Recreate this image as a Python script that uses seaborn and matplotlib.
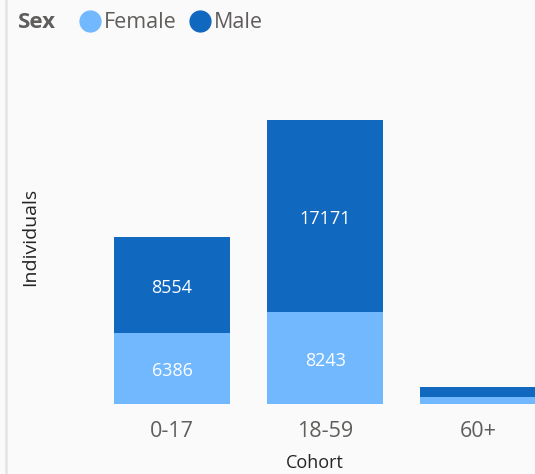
import matplotlib
matplotlib.use("Agg")
import matplotlib.pyplot as plt
import pandas as pd
import seaborn as sns
from matplotlib.lines import Line2D

# ── Data ───────────────────────────────────────────────────────────────────
cohorts = ["0-17", "18-59", "60+"]
female = [6386, 8243, 620]
male = [8554, 17171, 880]
show_labels = [True, True, False]

FEMALE_C = "#72B8FF"
MALE_C = "#1168BF"
BG = "#FAFAFA"

df = pd.DataFrame({"Cohort": cohorts, "Female": female, "Male": male})
df["Total"] = df["Female"] + df["Male"]

sns.set_theme(style="white")
plt.rcParams["font.family"] = ["Open Sans", "DejaVu Sans"]

fig = plt.figure(figsize=(5.35, 4.74), dpi=100, facecolor=BG)
ax = fig.add_axes([95.5 / 535, 70 / 474, (535 - 95.5) / 535, 335 / 474])
ax.set_facecolor(BG)

# stacked bars: total first (male colour), female drawn over it
sns.barplot(data=df, x="Cohort", y="Total", color=MALE_C, width=0.76,
            saturation=1, linewidth=0, ax=ax)
sns.barplot(data=df, x="Cohort", y="Female", color=FEMALE_C, width=0.76,
            saturation=1, linewidth=0, ax=ax)

for i, row in df.iterrows():
    if not show_labels[i]:
        continue
    ax.text(i, row["Female"] / 2 - 250, f"{row['Female']}", ha="center",
            va="center", color="white", fontsize=13)
    ax.text(i, row["Female"] + row["Male"] / 2 - 250, f"{row['Male']}",
            ha="center", va="center", color="white", fontsize=13)

ax.set_xlim(-0.5, 2.37)
ax.set_ylim(0, 30000)
ax.set_yticks([])
for s in ax.spines.values():
    s.set_visible(False)
ax.tick_params(axis="x", length=0, pad=12, labelsize=15.5, labelcolor="#605E5C")
ax.set_xlabel("Cohort", fontsize=13, color="#252423", labelpad=9)
ax.set_ylabel("")
fig.text(30 / 535, 1 - 237 / 474, "Individuals", rotation=90, ha="center",
         va="center", fontsize=14, color="#252423")

# legend
fig.text(18 / 535, 1 - 23 / 474, "Sex", fontsize=16, fontweight="bold",
         color="#605E5C", va="center", ha="left")
handles = [Line2D([], [], marker="o", linestyle="", markersize=15,
                  markerfacecolor=c, markeredgecolor=c) for c in (FEMALE_C, MALE_C)]
fig.legend(handles, ["Female", "Male"], loc="center left",
           bbox_to_anchor=(68 / 535, 1 - 23 / 474), ncol=2, frameon=False,
           handletextpad=0.05, columnspacing=0.5, handlelength=1.2,
           prop={"size": 15.5}, labelcolor="#605E5C", borderaxespad=0)

# left border line of the visual
fig.add_artist(Line2D([6 / 535, 6 / 535], [0, 1], color="#E6E6E6", lw=2))

fig.savefig("out.png", dpi=100, facecolor=BG)
